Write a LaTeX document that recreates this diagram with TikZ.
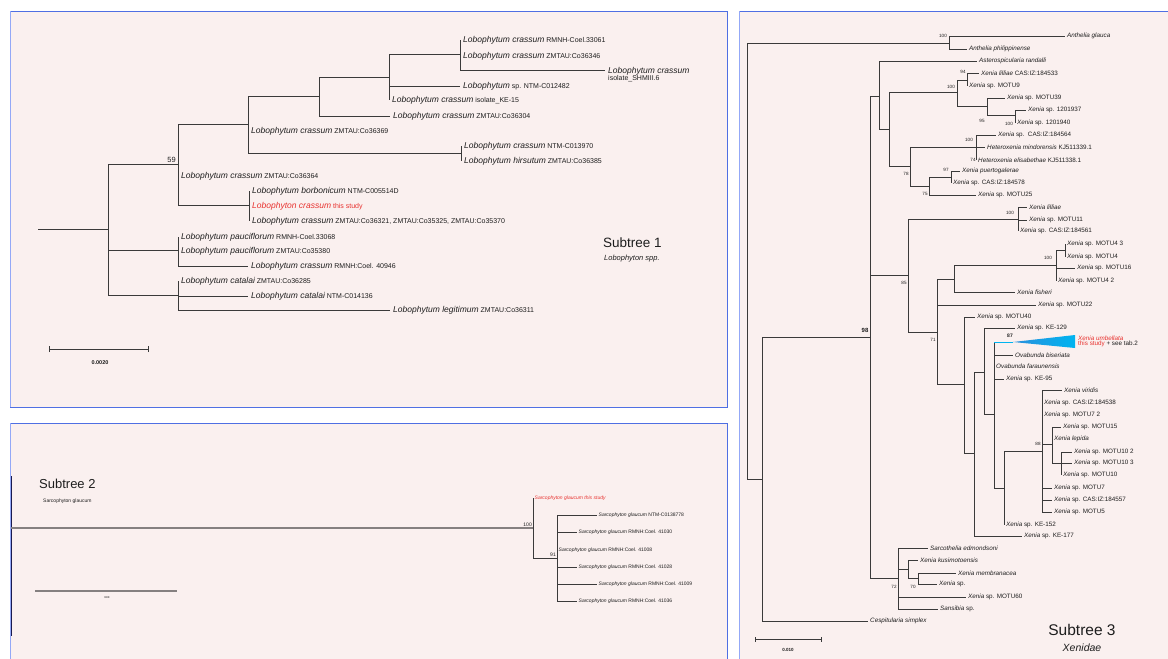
\documentclass[tikz,border=0pt]{standalone}
\usepackage{fontspec}
\setmainfont{Liberation Sans}
\definecolor{panel}{HTML}{FAF0EF}
\definecolor{frame}{HTML}{4F6FE3}
\definecolor{frameL}{HTML}{93A8F7}
\definecolor{linec}{HTML}{3A3A3A}
\definecolor{lineg}{HTML}{858080}
\definecolor{redt}{HTML}{E8322F}
\definecolor{tria}{HTML}{2A8FDC}
\definecolor{trib}{HTML}{00B4F0}
\definecolor{txt}{HTML}{1E1E1E}
\definecolor{navy}{HTML}{1A1A50}
\newcommand{\lobo}[2]{{\fontsize{8.5}{9}\selectfont\itshape #1} #2}
\begin{document}
\begin{tikzpicture}[x=1pt,y=-1pt,
  br/.style={draw=linec,line width=0.8pt},
  l1/.style={anchor=west,inner sep=0pt,xshift=3pt,font=\fontsize{7}{8}\selectfont,text=txt},
  l2/.style={anchor=west,inner sep=0pt,xshift=1.5pt,font=\fontsize{5}{6}\selectfont,text=txt},
  l3/.style={anchor=west,inner sep=0pt,xshift=2pt,font=\fontsize{6.3}{7}\selectfont,text=txt},
  sup/.style={inner sep=0pt,font=\fontsize{4.6}{5}\selectfont,text=txt},
  title/.style={inner sep=0pt,text=txt}]
\useasboundingbox (0,0) rectangle (1168,659);
\clip (0,0) rectangle (1168,659);
\fill[white] (0,0) rectangle (1168,659);
% ---------- panels
\fill[panel] (10,11) rectangle (727,407);
\draw[frame,line width=0.8pt] (10,11) rectangle (727,407);
\draw[frameL,line width=1.5pt] (10.5,11) -- (10.5,407);
\fill[panel] (10,423) rectangle (727,670);
\draw[frame,line width=0.8pt] (10,670) -- (10,423) -- (727,423) -- (727,670);
\draw[frameL,line width=1.5pt] (10.5,423) -- (10.5,670);
\fill[panel] (739,11) rectangle (1180,670);
\draw[frame,line width=0.8pt] (739,670) -- (739,11) -- (1180,11);
\draw[frameL,line width=1.2pt] (739.5,11) -- (739.5,670);

% ================= Subtree 1
\coordinate (s1r) at (38,229);
\coordinate (s1a) at (108,229);
\coordinate (s1b) at (178,164);
\coordinate (s1c) at (248,124);
\coordinate (s1d) at (319,96);
\coordinate (s1e) at (389,77);
\coordinate (s1f) at (460,54);
\coordinate (s1g) at (461,153);
\coordinate (s1h) at (249,205);
\coordinate (s1i) at (178,250);
\coordinate (s1j) at (178,295);
\coordinate (t1a) at (460,40);
\coordinate (t1b) at (460,56);
\coordinate (t1c) at (605,70);
\coordinate (t1d) at (460,86);
\coordinate (t1e) at (389,100);
\coordinate (t1f) at (390,116);
\coordinate (t1g) at (248,131);
\coordinate (t1h) at (461,146);
\coordinate (t1i) at (461,161);
\coordinate (t1j) at (178,176);
\coordinate (t1k) at (249,191);
\coordinate (t1l) at (249,206);
\coordinate (t1m) at (249,221);
\coordinate (t1n) at (178,237);
\coordinate (t1o) at (178,251);
\coordinate (t1p) at (248,266);
\coordinate (t1q) at (178,281);
\coordinate (t1r) at (248,296);
\coordinate (t1s) at (390,310);
\draw[br] (s1r) -- (s1a);
\foreach \p/\c in {s1a/s1b,s1a/s1i,s1a/s1j,s1b/s1c,s1b/t1j,s1b/s1h,s1c/s1d,s1c/t1g,s1c/s1g,
  s1d/s1e,s1d/t1f,s1e/s1f,s1e/t1d,s1e/t1e,s1f/t1a,s1f/t1b,s1f/t1c,s1g/t1h,s1g/t1i,
  s1h/t1k,s1h/t1l,s1h/t1m,s1i/t1n,s1i/t1o,s1i/t1p,s1j/t1q,s1j/t1r,s1j/t1s}
  {\draw[br] (\p) |- (\c);}
\node[l1] (L1a) at (t1a) {\lobo{Lobophytum crassum}{RMNH-Coel.33061}};
\node[l1] (L1b) at (t1b) {\lobo{Lobophytum crassum}{ZMTAU:Co36346}};
\node[l1] (L1c) at ([yshift=-1pt]t1c) {\lobo{Lobophytum crassum}{}};
\node[l1] (L1c2) at ([yshift=-9pt]t1c) {isolate\_SHMIII.6};
\node[l1] (L1d) at (t1d) {\lobo{Lobophytum}{sp. NTM-C012482}};
\node[l1] (L1e) at (t1e) {\lobo{Lobophytum crassum}{isolate\_KE-15}};
\node[l1] (L1f) at (t1f) {\lobo{Lobophytum crassum}{ZMTAU:Co36304}};
\node[l1] (L1g) at (t1g) {\lobo{Lobophytum crassum}{ZMTAU:Co36369}};
\node[l1] (L1h) at (t1h) {\lobo{Lobophytum crassum}{NTM-C013970}};
\node[l1] (L1i) at (t1i) {\lobo{Lobophytum hirsutum}{ZMTAU:Co36385}};
\node[l1] (L1j) at (t1j) {\lobo{Lobophytum crassum}{ZMTAU:Co36364}};
\node[l1] (L1k) at (t1k) {\lobo{Lobophytum borbonicum}{NTM-C005514D}};
\node[l1,text=redt] (L1l) at (t1l) {\lobo{Lobophyton crassum}{this study}};
\node[l1] (L1m) at (t1m) {\lobo{Lobophytum crassum}{ZMTAU:Co36321, ZMTAU:Co35325, ZMTAU:Co35370}};
\node[l1] (L1n) at (t1n) {\lobo{Lobophytum pauciflorum}{RMNH-Coel.33068}};
\node[l1] (L1o) at (t1o) {\lobo{Lobophytum pauciflorum}{ZMTAU:Co35380}};
\node[l1] (L1p) at (t1p) {\lobo{Lobophytum crassum}{RMNH:Coel. 40946}};
\node[l1] (L1q) at (t1q) {\lobo{Lobophytum catalai}{ZMTAU:Co36285}};
\node[l1] (L1r) at (t1r) {\lobo{Lobophytum catalai}{NTM-C014136}};
\node[l1] (L1s) at (t1s) {\lobo{Lobophytum legitimum}{ZMTAU:Co36311}};
\node[inner sep=0pt,font=\fontsize{7.5}{8}\selectfont,text=txt,anchor=south east] (b59) at ([xshift=-2pt,yshift=1.5pt]s1b) {59};
\node[title,anchor=west,font=\fontsize{13.5}{14}\selectfont] (T1) at (603,243) {Subtree 1};
\node[title,anchor=west,font=\fontsize{7.5}{8}\selectfont\itshape] (T1s) at (604,259) {Lobophyton spp.};
\coordinate (sb1a) at (49,349);
\coordinate (sb1b) at (148,349);
\draw[br] (sb1a) -- (sb1b);
\draw[br] ([yshift=-3pt]sb1a) -- ([yshift=3pt]sb1a);
\draw[br] ([yshift=-3pt]sb1b) -- ([yshift=3pt]sb1b);
\node[inner sep=0pt,font=\fontsize{5.5}{6}\selectfont\bfseries,text=txt] (sb1l) at (100,363) {0.0020};

% ================= Subtree 2
\draw[navy,line width=1pt] (11,476) -- (11,636);
\coordinate (s2r) at (11,528);
\coordinate (s2a) at (533,528);
\coordinate (s2b) at (557,558);
\coordinate (t2a) at (533,498);
\coordinate (t2b) at (597,515);
\coordinate (t2c) at (577,532);
\coordinate (t2d) at (557,550);
\coordinate (t2e) at (577,567);
\coordinate (t2f) at (597,584);
\coordinate (t2g) at (577,601);
\draw[draw=lineg,line width=1.2pt] (s2r) -- (s2a);
\foreach \p/\c in {s2a/t2a,s2a/s2b,s2b/t2b,s2b/t2c,s2b/t2d,s2b/t2e,s2b/t2f,s2b/t2g}
  {\draw[br] (\p) |- (\c);}
\node[l2,text=redt] (L2a) at (t2a) {\textit{Sarcophyton glaucum this study}};
\node[l2] (L2b) at (t2b) {\textit{Sarcophyton glaucum} NTM-C0138778};
\node[l2] (L2c) at (t2c) {\textit{Sarcophyton glaucum} RMNH:Coel. 41030};
\node[l2] (L2d) at (t2d) {\textit{Sarcophyton glaucum} RMNH:Coel. 41008};
\node[l2] (L2e) at (t2e) {\textit{Sarcophyton glaucum} RMNH:Coel. 41028};
\node[l2] (L2f) at (t2f) {\textit{Sarcophyton glaucum} RMNH:Coel. 41009};
\node[l2] (L2g) at (t2g) {\textit{Sarcophyton glaucum} RMNH:Coel. 41036};
\node[sup,font=\fontsize{5}{6}\selectfont,anchor=south east] (b100s2) at ([xshift=-1pt,yshift=1pt]s2a) {100};
\node[sup,font=\fontsize{5}{6}\selectfont,anchor=south east] (b91) at ([xshift=-1pt,yshift=1pt]s2b) {91};
\node[title,anchor=west,font=\fontsize{13}{14}\selectfont] (T2) at (39,484) {Subtree 2};
\node[title,anchor=west,font=\fontsize{5}{6}\selectfont] (T2s) at (43,501) {Sarcophyton glaucum};
\coordinate (sb2a) at (35,591);
\coordinate (sb2b) at (177,591);
\draw[lineg,line width=1.3pt] (sb2a) -- (sb2b);
\node[inner sep=0pt,font=\fontsize{3.5}{4}\selectfont,text=txt] (sb2l) at (107,598) {xxx};

% ================= Subtree 3
\coordinate (n3r) at (747,261);
\coordinate (n3a) at (949,43);
\coordinate (t3a1) at (1065,36);
\coordinate (t3a2) at (967,49);
\coordinate (n3b) at (762,479);
\coordinate (t3ces) at (868,621);
\coordinate (n98) at (870,337);
\coordinate (n3c) at (879,96);
\coordinate (t3ast) at (977,61);
\coordinate (n3d) at (889,129);
\coordinate (n3e) at (957,92);
\coordinate (n94) at (967,80);
\coordinate (t3lil) at (979,73);
\coordinate (t3m9) at (967,86);
\coordinate (n95) at (987,106);
\coordinate (t3m39) at (1005,98);
\coordinate (n100b) at (1015,115);
\coordinate (t3a37) at (1026,110);
\coordinate (t3a40) at (1015,123);
\coordinate (n78) at (910,166);
\coordinate (n3f) at (976,147);
\coordinate (t3c64) at (996,135);
\coordinate (t3min) at (985,147);
\coordinate (t3eli) at (976,160);
\coordinate (n75) at (929,186);
\coordinate (n97) at (951,177);
\coordinate (t3pue) at (960,171);
\coordinate (t3c78) at (951,183);
\coordinate (t3m25) at (976,195);
\coordinate (n85) at (908,275);
\coordinate (n100c) at (1018,219);
\coordinate (t3lil2) at (1027,207);
\coordinate (t3m11) at (1027,220);
\coordinate (t3c61) at (1018,231);
\coordinate (n71) at (937,332);
\coordinate (nB) at (954,279);
\coordinate (n100d) at (1056,265);
\coordinate (n3g) at (1065,250);
\coordinate (t3m43) at (1065,244);
\coordinate (t3m4) at (1065,257);
\coordinate (t3m16) at (1075,268);
\coordinate (t3m42) at (1056,281);
\coordinate (t3fis) at (1015,292);
\coordinate (t3m22) at (1036,305);
\coordinate (nC) at (964,384);
\coordinate (t3m40) at (975,317);
\coordinate (nD) at (974,453);
\coordinate (t3k177) at (1022,536);
\coordinate (nE) at (984,372);
\coordinate (t3k129) at (1015,328);
\coordinate (nF) at (994,414);
\coordinate (n87) at (1013,342);
\coordinate (t3bis) at (1013,355);
\coordinate (t3far) at (994,366);
\coordinate (t3k95) at (1004,379);
\coordinate (nG) at (1004,488);
\coordinate (t3k152) at (1004,525);
\coordinate (n88) at (1042,451);
\coordinate (t3vir) at (1062,390);
\coordinate (t3c38) at (1042,403);
\coordinate (t3m72) at (1042,415);
\coordinate (nH) at (1052,444);
\coordinate (t3m15) at (1061,427);
\coordinate (t3lep) at (1052,439);
\coordinate (nI) at (1061,463);
\coordinate (t3m102) at (1072,452);
\coordinate (t3m103) at (1072,463);
\coordinate (t3m10) at (1061,475);
\coordinate (t3m7) at (1052,488);
\coordinate (t3c57) at (1052,500);
\coordinate (t3m5) at (1052,512);
\coordinate (n72) at (898,578);
\coordinate (t3sar) at (928,548);
\coordinate (n70a) at (908,569);
\coordinate (t3kus) at (918,560);
\coordinate (n70) at (918,578);
\coordinate (t3mem) at (956,573);
\coordinate (t3xsp) at (937,584);
\coordinate (t3m60) at (966,597);
\coordinate (t3san) at (938,609);
\coordinate (tri1) at (1075,335);
\coordinate (tri2) at (1075,348);
\foreach \p/\c in {n3r/n3a,n3r/n3b,n3a/t3a1,n3a/t3a2,n3b/n98,n3b/t3ces,
  n98/n3c,n98/n85,n98/n72,n3c/t3ast,n3c/n3d,n3d/n3e,n3d/n78,
  n3e/n94,n3e/n95,n94/t3lil,n94/t3m9,n95/t3m39,n95/n100b,n100b/t3a37,n100b/t3a40,
  n78/n3f,n78/n75,n3f/t3c64,n3f/t3min,n3f/t3eli,n75/n97,n75/t3m25,n97/t3pue,n97/t3c78,
  n85/n100c,n85/n71,n100c/t3lil2,n100c/t3m11,n100c/t3c61,
  n71/nB,n71/t3m22,n71/nC,nB/n100d,nB/t3fis,n100d/n3g,n100d/t3m16,n100d/t3m42,n3g/t3m43,n3g/t3m4,
  nC/t3m40,nC/nD,nD/nE,nD/t3k177,nE/t3k129,nE/nF,
  nF/t3bis,nF/t3far,nF/t3k95,nF/nG,nG/n88,nG/t3k152,
  n88/t3vir,n88/t3c38,n88/t3m72,n88/nH,n88/t3m7,n88/t3c57,n88/t3m5,
  nH/t3m15,nH/t3lep,nH/nI,nI/t3m102,nI/t3m103,nI/t3m10,
  n72/t3sar,n72/n70a,n72/t3m60,n72/t3san,n70a/t3kus,n70a/n70,n70/t3mem,n70/t3xsp}
  {\draw[br] (\p) |- (\c);}
\draw[br] (nF) -- (nF |- n87);
\draw[trib,line width=0.8pt] (nF |- n87) -- (n87);
\shade[left color=tria,right color=trib] (n87) -- (tri1) -- (tri2) -- cycle;
% leaf labels
\node[l3] (L3a1) at (t3a1) {\textit{Anthelia glauca}};
\node[l3] (L3a2) at (t3a2) {\textit{Anthelia philippinense}};
\node[l3] (L3ast) at (t3ast) {\textit{Asterospicularia randalli}};
\node[l3] (L3lil) at (t3lil) {\textit{Xenia lilliae} CAS:IZ:184533};
\node[l3] (L3m9) at (t3m9) {\textit{Xenia} sp. MOTU9};
\node[l3] (L3m39) at (t3m39) {\textit{Xenia} sp. MOTU39};
\node[l3] (L3a37) at (t3a37) {\textit{Xenia} sp. 1201937};
\node[l3] (L3a40) at (t3a40) {\textit{Xenia} sp. 1201940};
\node[l3] (L3c64) at (t3c64) {\textit{Xenia} sp.\ \ CAS:IZ:184564};
\node[l3] (L3min) at (t3min) {\textit{Heteroxenia mindorensis} KJ511339.1};
\node[l3] (L3eli) at (t3eli) {\textit{Heteroxenia elisabethae} KJ511338.1};
\node[l3] (L3pue) at (t3pue) {\textit{Xenia puertogalerae}};
\node[l3] (L3c78) at (t3c78) {\textit{Xenia} sp. CAS:IZ:184578};
\node[l3] (L3m25) at (t3m25) {\textit{Xenia} sp. MOTU25};
\node[l3] (L3lil2) at (t3lil2) {\textit{Xenia lilliae}};
\node[l3] (L3m11) at (t3m11) {\textit{Xenia} sp. MOTU11};
\node[l3] (L3c61) at (t3c61) {\textit{Xenia} sp. CAS:IZ:184561};
\node[l3] (L3m43) at (t3m43) {\textit{Xenia} sp. MOTU4 3};
\node[l3] (L3m4) at (t3m4) {\textit{Xenia} sp. MOTU4};
\node[l3] (L3m16) at (t3m16) {\textit{Xenia} sp. MOTU16};
\node[l3] (L3m42) at (t3m42) {\textit{Xenia} sp. MOTU4 2};
\node[l3] (L3fis) at (t3fis) {\textit{Xenia fisheri}};
\node[l3] (L3m22) at (t3m22) {\textit{Xenia} sp. MOTU22};
\node[l3] (L3m40) at (t3m40) {\textit{Xenia} sp. MOTU40};
\node[l3] (L3k129) at (t3k129) {\textit{Xenia} sp. KE-129};
\node[l3,text=redt,anchor=south west,xshift=1pt] (L3umb) at ([yshift=1.5pt]tri1 |- n87) {\textit{Xenia umbellata}};
\node[l3,anchor=north west,xshift=1pt] (L3umb2) at ([yshift=1pt]tri1 |- n87) {\textcolor{redt}{this study} + see tab.2};
\node[l3] (L3bis) at (t3bis) {\textit{Ovabunda biseriata}};
\node[l3] (L3far) at (t3far) {\textit{Ovabunda faraunensis}};
\node[l3] (L3k95) at (t3k95) {\textit{Xenia} sp. KE-95};
\node[l3] (L3vir) at (t3vir) {\textit{Xenia viridis}};
\node[l3] (L3c38) at (t3c38) {\textit{Xenia} sp. CAS:IZ:184538};
\node[l3] (L3m72) at (t3m72) {\textit{Xenia} sp. MOTU7 2};
\node[l3] (L3m15) at (t3m15) {\textit{Xenia} sp. MOTU15};
\node[l3] (L3lep) at (t3lep) {\textit{Xenia lepida}};
\node[l3] (L3m102) at (t3m102) {\textit{Xenia} sp. MOTU10 2};
\node[l3] (L3m103) at (t3m103) {\textit{Xenia} sp. MOTU10 3};
\node[l3] (L3m10) at (t3m10) {\textit{Xenia} sp. MOTU10};
\node[l3] (L3m7) at (t3m7) {\textit{Xenia} sp. MOTU7};
\node[l3] (L3c57) at (t3c57) {\textit{Xenia} sp. CAS:IZ:184557};
\node[l3] (L3m5) at (t3m5) {\textit{Xenia} sp. MOTU5};
\node[l3] (L3k152) at (t3k152) {\textit{Xenia} sp. KE-152};
\node[l3] (L3k177) at (t3k177) {\textit{Xenia} sp. KE-177};
\node[l3] (L3sar) at (t3sar) {\textit{Sarcothelia edmondsoni}};
\node[l3] (L3kus) at (t3kus) {\textit{Xenia kusimotoensis}};
\node[l3] (L3mem) at (t3mem) {\textit{Xenia membranacea}};
\node[l3] (L3xsp) at (t3xsp) {\textit{Xenia} sp.};
\node[l3] (L3m60) at (t3m60) {\textit{Xenia} sp. MOTU60};
\node[l3] (L3san) at (t3san) {\textit{Sansibia} sp.};
\node[l3] (L3ces) at (t3ces) {\textit{Cespitularia simplex}};
% support values
\node[sup] (b3a) at (943,36) {100};
\node[sup] (b3b) at (963,72) {94};
\node[sup] (b3c) at (951,87) {100};
\node[sup] (b3d) at (982,121) {95};
\node[sup] (b3e) at (1009,124) {100};
\node[sup] (b3f) at (969,140) {100};
\node[sup] (b3g) at (973,160) {74};
\node[sup] (b3h) at (906,174) {78};
\node[sup] (b3i) at (946,170) {97};
\node[sup] (b3j) at (925,194) {75};
\node[sup,font=\fontsize{6}{6}\selectfont\bfseries] (b3k) at (865,330) {98};
\node[sup] (b3l) at (904,283) {85};
\node[sup] (b3m) at (1010,213) {100};
\node[sup] (b3n) at (1048,258) {100};
\node[sup] (b3o) at (933,340) {71};
\node[sup,font=\fontsize{5}{5}\selectfont\bfseries] (b3p) at (1010,336) {87};
\node[sup] (b3q) at (1038,444) {88};
\node[sup] (b3r) at (894,587) {72};
\node[sup] (b3s) at (913,587) {70};
% scale and title
\coordinate (sb3a) at (755,639);
\coordinate (sb3b) at (821,639);
\draw[br] (sb3a) -- (sb3b);
\draw[br] ([yshift=-2.5pt]sb3a) -- ([yshift=2.5pt]sb3a);
\draw[br] ([yshift=-2.5pt]sb3b) -- ([yshift=2.5pt]sb3b);
\node[inner sep=0pt,font=\fontsize{4.5}{5}\selectfont\bfseries,text=txt] (sb3l) at (788,650) {0.010};
\node[title,font=\fontsize{15.5}{16}\selectfont] (T3) at (1082,630) {Subtree 3};
\node[title,font=\fontsize{10.5}{11}\selectfont\itshape] (T3s) at (1082,648) {Xenidae};
\end{tikzpicture}
\end{document}
